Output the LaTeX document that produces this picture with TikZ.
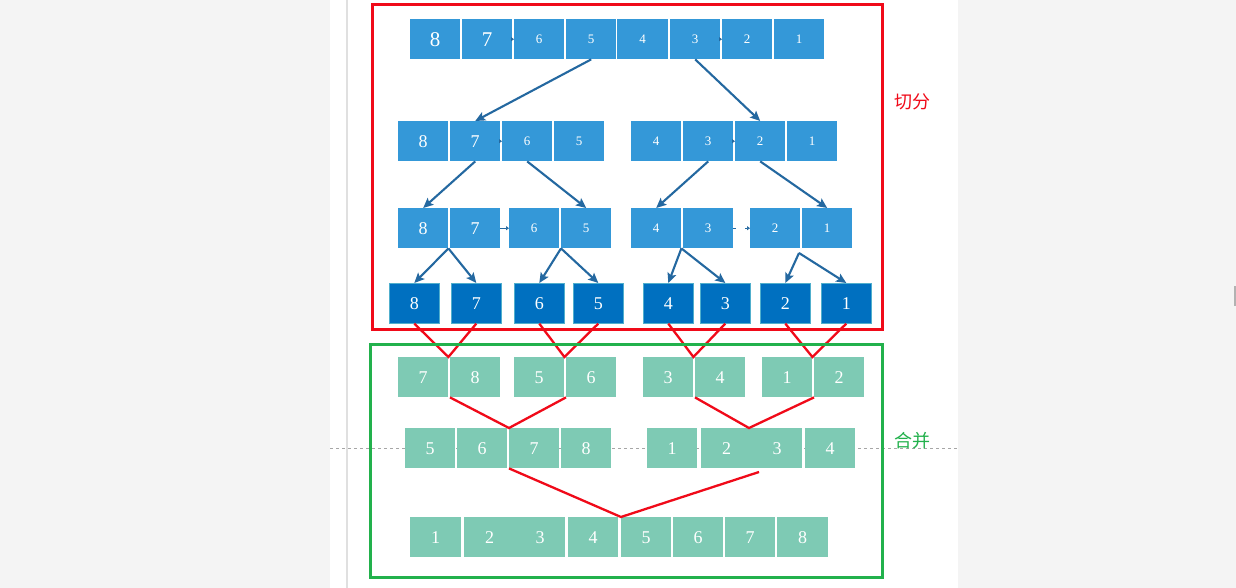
\documentclass[tikz,border=0pt]{standalone}
\usepackage{fontspec}
\setmainfont{Liberation Serif}
\newfontfamily\cjk{Noto Sans CJK SC}
\usetikzlibrary{arrows.meta}
\definecolor{lblue}{RGB}{52,152,216}
\definecolor{dblue}{RGB}{0,112,192}
\definecolor{dbord}{RGB}{80,175,205}
\definecolor{mgreen}{RGB}{126,202,180}
\definecolor{arrc}{RGB}{36,104,160}
\definecolor{bred}{RGB}{240,10,25}
\definecolor{bgreen}{RGB}{34,177,76}
\definecolor{pagebg}{RGB}{244,244,244}
\begin{document}
\begin{tikzpicture}[x=1pt,y=-1pt,
  cell/.style={anchor=north west, inner sep=0pt, minimum width=#1, minimum height=40pt, text=white},
  cell/.default=50pt,
  bl/.style={cell=#1, fill=lblue},
  bl/.default=50pt,
  db/.style={cell=#1, fill=dblue, draw=dbord, line width=0.6pt},
  db/.default=50pt,
  gr/.style={cell=#1, fill=mgreen},
  gr/.default=50pt,
  big/.style={font=\fontsize{21}{21}\selectfont},
  mid/.style={font=\fontsize{18}{18}\selectfont},
  sml/.style={font=\fontsize{13}{13}\selectfont},
  arr/.style={draw=arrc, line width=2.1pt, -{Stealth[length=10pt,width=9pt,inset=2pt]}},
  tinyarr/.style={draw=arrc, line width=0.6pt, -{Triangle[length=3pt,width=4pt]}},
  rl/.style={draw=bred, line width=2.3pt, line join=miter},
]
\useasboundingbox (0,0) rectangle (1236,588);
\fill[pagebg] (0,0) rectangle (1236,588);
\fill[white] (330,0) rectangle (958,588);
\draw[black!12, line width=1.5pt] (347,0) -- (347,588);
\draw[black!35, dashed, line width=0.7pt] (330,448) -- (958,448);
\fill[black!30] (1234,286) rectangle (1236,306);

% top row
\node[bl, big] (t1) at (410,19) {8};
\node[bl, big] (t2) at (462,19) {7};
\node[bl, sml] (t3) at (514,19) {6};
\node[bl, sml] (t4) at (566,19) {5};
\node[bl=51pt, sml] (t5) at (617,19) {4};
\node[bl, sml] (t6) at (670,19) {3};
\node[bl, sml] (t7) at (722,19) {2};
\node[bl, sml] (t8) at (774,19) {1};

% row 2
\node[bl, mid] (ra1) at (398,121) {8};
\node[bl, mid] (ra2) at (450,121) {7};
\node[bl, sml] (ra3) at (502,121) {6};
\node[bl, sml] (ra4) at (554,121) {5};
\node[bl, sml] (ra5) at (631,121) {4};
\node[bl, sml] (ra6) at (683,121) {3};
\node[bl, sml] (ra7) at (735,121) {2};
\node[bl, sml] (ra8) at (787,121) {1};

% row 3
\node[bl, mid] (rb1) at (398,208) {8};
\node[bl, mid] (rb2) at (450,208) {7};
\node[bl, sml] (rb3) at (509,208) {6};
\node[bl, sml] (rb4) at (561,208) {5};
\node[bl, sml] (rb5) at (631,208) {4};
\node[bl, sml] (rb6) at (683,208) {3};
\node[bl, sml] (rb7) at (750,208) {2};
\node[bl, sml] (rb8) at (802,208) {1};

% row 4
\node[db, mid] (rc1) at (389,283) {8};
\node[db, mid] (rc2) at (451,283) {7};
\node[db, mid] (rc3) at (514,283) {6};
\node[db, mid] (rc4) at (573,283) {5};
\node[db, mid] (rc5) at (643,283) {4};
\node[db, mid] (rc6) at (700,283) {3};
\node[db, mid] (rc7) at (760,283) {2};
\node[db, mid] (rc8) at (821,283) {1};

% green row 1
\node[gr, mid] (ga1) at (398,357) {7};
\node[gr, mid] (ga2) at (450,357) {8};
\node[gr, mid] (ga3) at (514,357) {5};
\node[gr, mid] (ga4) at (566,357) {6};
\node[gr, mid] (ga5) at (643,357) {3};
\node[gr, mid] (ga6) at (695,357) {4};
\node[gr, mid] (ga7) at (762,357) {1};
\node[gr, mid] (ga8) at (814,357) {2};

% green row 2
\node[gr, mid] (gb1) at (405,428) {5};
\node[gr, mid] (gb2) at (457,428) {6};
\node[gr, mid] (gb3) at (509,428) {7};
\node[gr, mid] (gb4) at (561,428) {8};
\node[gr, mid] (gb5) at (647,428) {1};
\node[gr=51pt, mid] (gb6) at (701,428) {2};
\node[gr, mid] (gb7) at (752,428) {3};
\node[gr, mid] (gb8) at (805,428) {4};

% green row 3
\node[gr=51pt, mid] (gc1) at (410,517) {1};
\node[gr=51pt, mid] (gc2) at (464,517) {2};
\node[gr, mid] (gc3) at (515,517) {3};
\node[gr, mid] (gc4) at (568,517) {4};
\node[gr, mid] (gc5) at (621,517) {5};
\node[gr, mid] (gc6) at (673,517) {6};
\node[gr, mid] (gc7) at (725,517) {7};
\node[gr=51pt, mid] (gc8) at (777,517) {8};

% tiny leftover arrowheads
\draw[tinyarr] (t2.east) -- (t3.west);
\draw[tinyarr] (t6.east) -- (t7.west);
\draw[tinyarr] (ra2.east) -- (ra3.west);
\draw[tinyarr] (ra6.east) -- (ra7.west);
\draw[tinyarr] (rb2.east) -- (rb3.west);
\draw[tinyarr, dash pattern=on 3pt off 9pt] (rb6.east) -- (rb7.west);

% split arrows
\draw[arr] (t4.south) -- (ra2.north);
\draw[arr] (t6.south) -- (ra7.north);
\draw[arr] (ra2.south) -- (rb1.north);
\draw[arr] (ra3.south) -- (rb4.north);
\draw[arr] (ra6.south) -- (rb5.north);
\draw[arr] (ra7.south) -- (rb8.north);
\draw[arr] (rb1.south east) -- (rc1.north);
\draw[arr] (rb1.south east) -- (rc2.north);
\draw[arr] (rb4.south west) -- (rc3.north);
\draw[arr] (rb4.south west) -- (rc4.north);
\draw[arr] (rb5.south east) -- (rc5.north);
\draw[arr] (rb5.south east) -- (rc6.north);
\coordinate (splitd) at (799,253);
\draw[arr] (splitd) -- (rc7.north);
\draw[arr] (splitd) -- (rc8.north);

% merge lines
\draw[rl] (rc1.south) -- (ga1.north east) -- (rc2.south);
\draw[rl] (rc3.south) -- (ga3.north east) -- (rc4.south);
\draw[rl] (rc5.south) -- (ga5.north east) -- (rc6.south);
\draw[rl] (rc7.south) -- (ga7.north east) -- (rc8.south);
\draw[rl] (ga2.south west) -- (gb3.north west) -- (ga4.south west);
\coordinate (apexb) at (749,428);
\draw[rl] (ga6.south west) -- (apexb) -- (ga8.south west);
\coordinate (endc) at (759,472);
\draw[rl] (gb3.south west) -- (gc5.north west) -- (endc);

% frames
\draw[bred, line width=3pt] (372,5) rectangle (882,329);
\draw[bgreen, line width=3pt] (370,344) rectangle (882,577);
\node[text=bred, font=\cjk\fontsize{18}{18}\selectfont] (lab1) at (912,102) {切分};
\node[text=bgreen, font=\cjk\fontsize{18}{18}\selectfont] (lab2) at (912,441) {合并};
\end{tikzpicture}
\end{document}
